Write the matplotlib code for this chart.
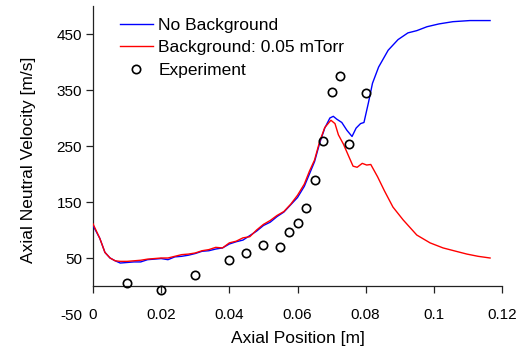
import matplotlib
matplotlib.use("Agg")
import matplotlib.pyplot as plt

plt.rcParams['font.family'] = ['Liberation Sans', 'DejaVu Sans']
plt.rcParams['axes.unicode_minus'] = False

# No Background (blue)
blue_x = [0, 0.002, 0.0035, 0.005, 0.0065, 0.008, 0.010, 0.012, 0.014, 0.016, 0.018,
          0.020, 0.022, 0.024, 0.026, 0.028, 0.030, 0.032, 0.034, 0.036, 0.038, 0.040,
          0.042, 0.044, 0.046, 0.048, 0.050, 0.052, 0.054, 0.056, 0.058, 0.060, 0.062,
          0.0635, 0.065, 0.0665, 0.068, 0.0695, 0.0705, 0.0715, 0.073, 0.0745, 0.076,
          0.0772, 0.0785, 0.0795, 0.0808, 0.0820, 0.0838, 0.0866, 0.0895, 0.0924,
          0.095, 0.098, 0.1015, 0.1056, 0.1106, 0.1165]
blue_y = [108, 85, 60, 50, 45, 41, 42, 43, 43, 47, 48, 49, 47, 52, 53, 55, 58, 62, 63,
          66, 68, 75, 79, 82, 90, 98, 108, 114, 124, 132, 145, 158, 178, 200, 222, 255,
          282, 300, 303, 298, 292, 278, 267, 282, 290, 292, 327, 362, 391, 421, 440, 452,
          456, 463, 468, 472, 474, 474]

# Background: 0.05 mTorr (red)
red_x = [0, 0.002, 0.0035, 0.005, 0.0065, 0.008, 0.010, 0.012, 0.014, 0.016, 0.018,
         0.020, 0.022, 0.024, 0.026, 0.028, 0.030, 0.032, 0.034, 0.036, 0.038, 0.040,
         0.042, 0.044, 0.046, 0.048, 0.050, 0.052, 0.054, 0.056, 0.058, 0.060, 0.062,
         0.0635, 0.065, 0.0665, 0.068, 0.0698, 0.0710, 0.0720, 0.0735, 0.0750, 0.0763,
         0.0775, 0.0790, 0.0803, 0.0815, 0.0835, 0.0855, 0.0880, 0.091, 0.095, 0.0989,
         0.1027, 0.1065, 0.1097, 0.1130, 0.1165]
red_y = [111, 85, 60, 50, 45, 44, 44, 45, 46, 48, 49, 50, 50, 53, 56, 57, 59, 63, 65,
         69, 68, 77, 80, 86, 88, 100, 110, 117, 126, 133, 146, 162, 182, 205, 225, 258,
         283, 296, 290, 270, 253, 232, 214, 212, 219, 216, 217, 195, 170, 141, 118, 91,
         77, 68, 62, 57, 53, 50]

# Experiment
exp_x = [0.010, 0.020, 0.030, 0.040, 0.045, 0.050, 0.055, 0.0575, 0.060, 0.0625,
         0.065, 0.0675, 0.070, 0.0725, 0.075, 0.080]
exp_y = [5, -8, 20, 46, 59, 73, 70, 96, 112, 139, 189, 259, 346, 375, 253, 344]

x_ticks = [0, 0.02, 0.04, 0.06, 0.08, 0.10, 0.12]
x_tick_labels = ["0", "0.02", "0.04", "0.06", "0.08", "0.1", "0.12"]
y_ticks = [-50, 50, 150, 250, 350, 450]

fig = plt.figure(figsize=(5.24, 3.52), dpi=100)
ax = fig.add_axes([93/524, 38/352, 409/524, 308/352])

ax.plot(blue_x, blue_y, color='#0000ff', lw=1.0, label='No Background', zorder=3)
ax.plot(red_x, red_y, color='#ff0000', lw=1.0, label='Background: 0.05 mTorr', zorder=3)
ax.plot(exp_x, exp_y, linestyle='none', marker='o', ms=6, mfc='none', mec='black',
        mew=1.2, label='Experiment', zorder=4)

ax.set_xlim(0, 0.12)
ax.set_ylim(-50, 500)
ax.set_xticks(x_ticks)
ax.set_xticklabels(x_tick_labels)
ax.set_yticks(y_ticks)

for s in ['top', 'right']:
    ax.spines[s].set_visible(False)
ax.spines['bottom'].set_position(('data', 0))
ax.spines['left'].set_bounds(0, 500)
for s in ['bottom', 'left']:
    ax.spines[s].set_linewidth(0.9)
    ax.spines[s].set_color('#222222')

ax.tick_params(axis='both', direction='out', length=5, width=0.9, color='#222222',
               labelsize=11)
ax.tick_params(axis='x', pad=11)
ax.tick_params(axis='y', pad=3)
ax.yaxis.get_major_ticks()[0].tick1line.set_visible(False)

ax.set_xlabel('Axial Position [m]', fontsize=12.5, labelpad=6)
ax.set_ylabel('Axial Neutral Velocity [m/s]', fontsize=12.5, labelpad=15)

ax.legend(loc='upper left', bbox_to_anchor=(0.066, 0.962), frameon=False,
          fontsize=12.5, handlelength=1.9, handletextpad=0.3, labelspacing=0.42,
          borderpad=0, borderaxespad=0)

fig.savefig('out.png', dpi=100)
